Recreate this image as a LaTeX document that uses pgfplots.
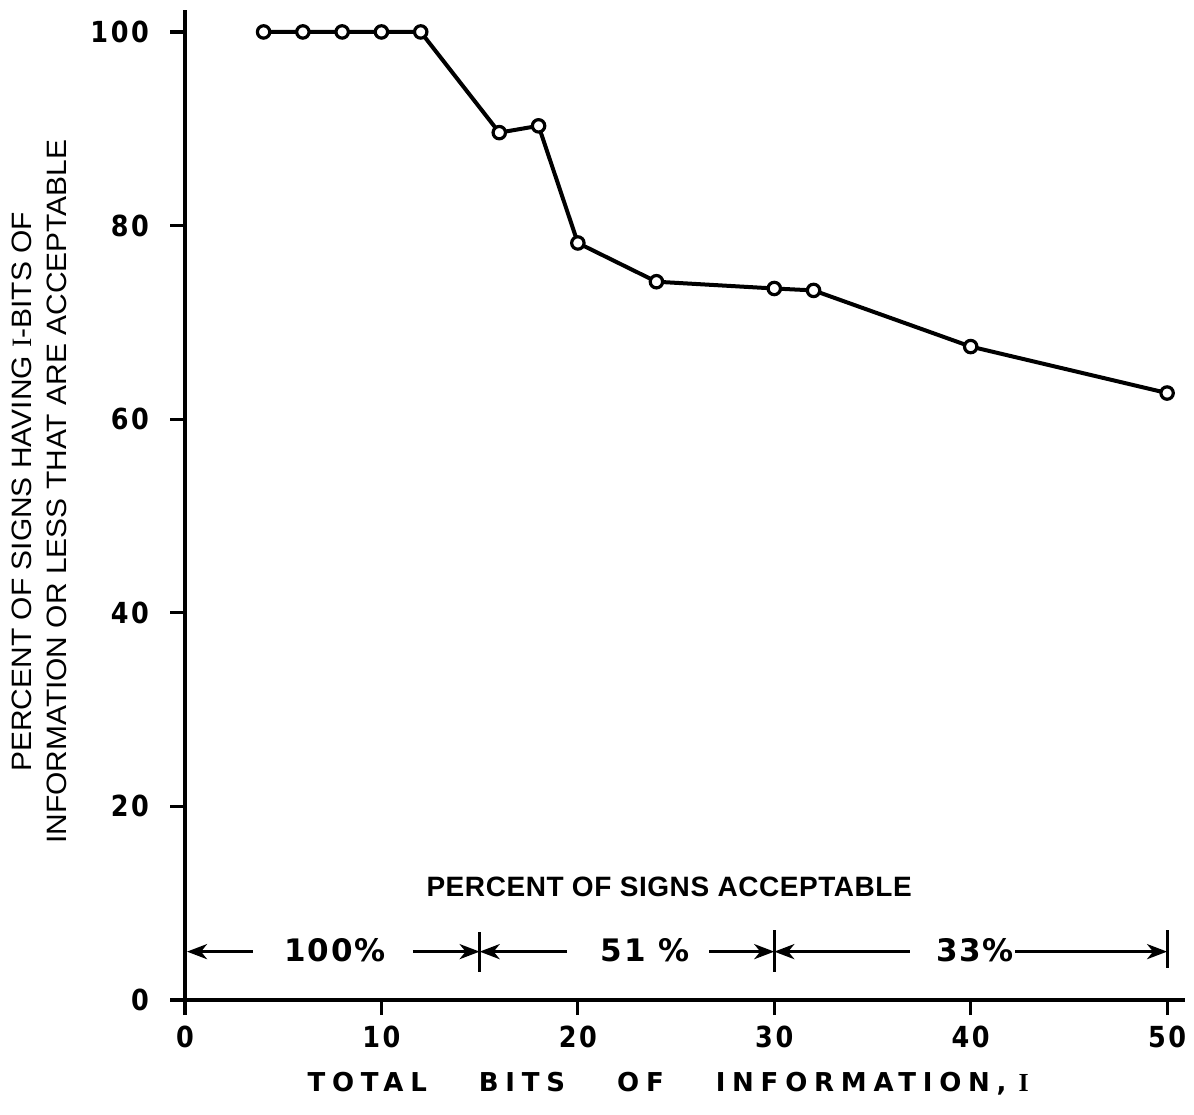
\documentclass[border=0pt]{standalone}
\usepackage{fontspec}
\setmainfont{Liberation Sans}
\usepackage{pgfplots}
\pgfplotsset{compat=1.18}
\usetikzlibrary{arrows.meta}
\newfontfamily\tickfont[LetterSpace=9,FakeStretch=0.88]{DejaVu Sans Bold}
\newfontfamily\pctfont[LetterSpace=5]{DejaVu Sans Bold}
\newfontfamily\labfont[FakeStretch=1.07]{Liberation Sans}
\newfontfamily\midfont[LetterSpace=2]{Liberation Sans Bold}
\newfontfamily\xlabfont[LetterSpace=26]{DejaVu Sans Bold}
\newfontfamily\serfont{Liberation Serif}
\newfontfamily\serbfont{Liberation Serif Bold}
\begin{document}
\begin{tikzpicture}
\begin{axis}[
  x=9.82pt, y=4.84pt,
  xmin=0, xmax=50.9, ymin=0, ymax=102.3,
  axis lines=left,
  axis line style={-, line width=1.9pt},
  xtick={0,10,20,30,40,50}, ytick={0,20,40,60,80,100},
  tick align=outside,
  major tick length=7.5pt,
  every tick/.style={line width=1.6pt, black},
  tick label style={font=\tickfont\fontsize{14.5}{15}\selectfont},
  /pgf/number format/assume math mode=true,
  xticklabel style={yshift=-2pt},
  yticklabel style={xshift=-7pt},
  clip=false,
]
\addplot[black, line width=2pt, mark=*, mark size=3.1pt,
  mark options={line width=1.6pt, fill=white, draw=black}] coordinates {
  (4,100) (6,100) (8,100) (10,100) (12,100)
  (16,89.6) (18,90.3) (20,78.2) (24,74.2) (30,73.5) (32,73.3)
  (40,67.5) (50,62.7)
};
% bounding box
\path (axis cs:-9.42,-11.78) rectangle (axis cs:51.37,103.3);
% y label
\node[rotate=90, align=center, font=\labfont\fontsize{14}{17.5}\selectfont]
  at (axis cs:-7.42,52.5)
  {PERCENT OF SIGNS HAVING {\serfont I}-BITS OF\\INFORMATION OR LESS THAT ARE ACCEPTABLE};
% x label
\node[font=\xlabfont\fontsize{13}{14}\selectfont] at (axis cs:24.6,-8.6)
  {TOTAL\hspace{26pt}BITS\hspace{26pt}OF\hspace{26pt}INFORMATION,\hspace{6pt}{\serbfont I}};
% annotation
\node[font=\midfont\fontsize{14}{16}\selectfont] at (axis cs:24.65,11.67)
  {PERCENT OF SIGNS ACCEPTABLE};
\node[font=\pctfont\fontsize{15.5}{16}\selectfont] at (axis cs:7.64,5.17) {100\%};
\node[font=\pctfont\fontsize{15.5}{16}\selectfont] at (axis cs:23.42,5.17) {51 \%};
\node[font=\pctfont\fontsize{15.5}{16}\selectfont] at (axis cs:40.22,5.17) {33\%};
\begin{scope}[line width=1.6pt, arr/.style={-{Stealth[length=10pt,width=7.5pt,inset=3pt]}}]
\draw[arr] (axis cs:3.46,5) -- (axis cs:0.1,5);
\draw[arr] (axis cs:11.6,5) -- (axis cs:15,5);
\draw[arr] (axis cs:19.45,5) -- (axis cs:15,5);
\draw[arr] (axis cs:26.7,5) -- (axis cs:30,5);
\draw[arr] (axis cs:36.9,5) -- (axis cs:30,5);
\draw[arr] (axis cs:42.26,5) -- (axis cs:50,5);
\draw (axis cs:15,7.0) -- (axis cs:15,2.9);
\draw (axis cs:30,7.2) -- (axis cs:30,2.9);
\draw (axis cs:50,7.2) -- (axis cs:50,3.3);
\end{scope}
\end{axis}
\end{tikzpicture}
\end{document}
